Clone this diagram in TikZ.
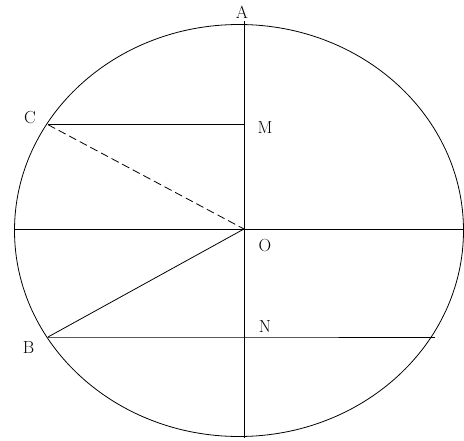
\documentclass[tikz,border=0pt]{standalone}
\begin{document}
\begin{tikzpicture}[x=1pt,y=-1pt,
  ln/.style={line width=0.8pt,black},
  lbl/.style={font=\fontsize{17.5}{20}\selectfont,inner sep=0pt}]
\useasboundingbox (0,0) rectangle (464,441);
% key points
\coordinate (O) at (244,229);
\coordinate (Atop) at (244,21);
\coordinate (Bot) at (244,438);
\coordinate (L) at (14.5,229);
\coordinate (R) at (464,229);
\coordinate (C) at (48,124.7);
\coordinate (M) at (244,124.7);
\coordinate (B) at (48,337);
\coordinate (N) at (244,337);
\coordinate (Nr) at (435,337);
% ellipse
\draw[ln] (239,230.5) ellipse [x radius=224.5, y radius=206];
% lines
\draw[ln] (Atop) -- (Bot);
\draw[ln] (L) -- (R);
\draw[ln] (C) -- (M);
\draw[ln,dashed,dash pattern=on 8pt off 4pt] (C) -- (O);
\draw[ln] (B) -- (O);
\draw[ln] (B) -- (N) -- (Nr);
% labels
\node[lbl] (lA) at (242,12) {A};
\node[lbl] (lM) at (265,128) {M};
\node[lbl] (lO) at (265,245.5) {O};
\node[lbl] (lN) at (265,326.5) {N};
\node[lbl] (lC) at (30,118) {C};
\node[lbl] (lB) at (28.5,347.5) {B};
\end{tikzpicture}
\end{document}
